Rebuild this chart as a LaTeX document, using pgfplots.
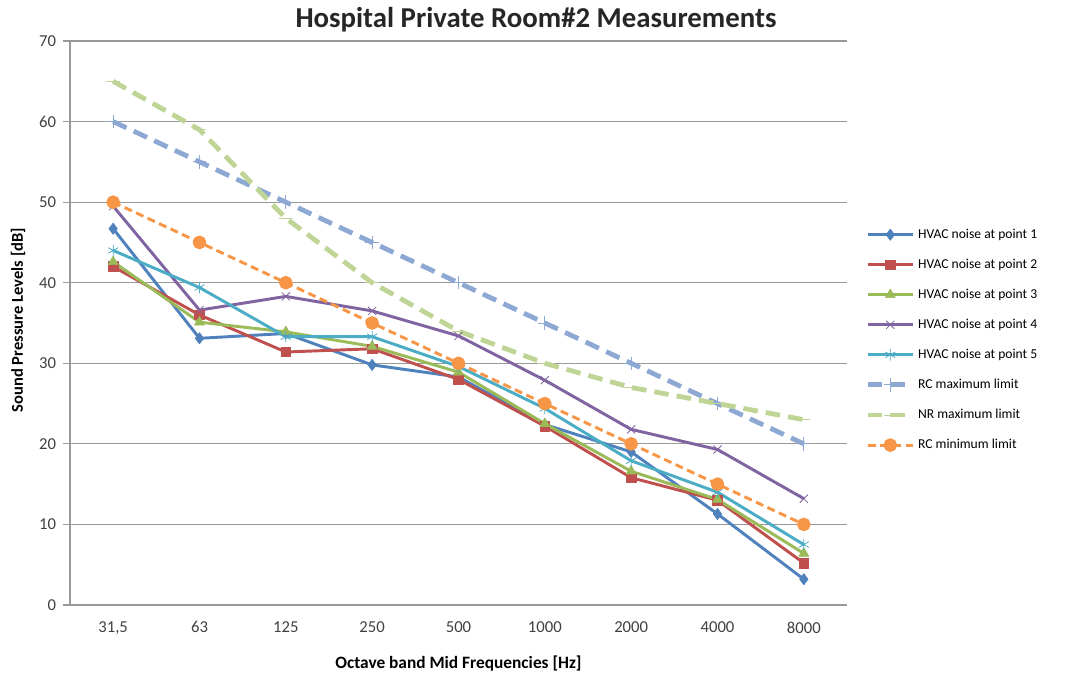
\documentclass[border=0pt]{standalone}
\usepackage{pgfplots}
\usepackage{pgfplotstable}
\usepackage{fontspec}
\setmainfont{Carlito}
\pgfplotsset{compat=1.18}

\definecolor{xblue}{HTML}{4F81BD}
\definecolor{xred}{HTML}{C0504D}
\definecolor{xgreen}{HTML}{9BBB59}
\definecolor{xpurple}{HTML}{8064A2}
\definecolor{xteal}{HTML}{4BACC6}
\definecolor{xorange}{HTML}{F79646}
\definecolor{rcmax}{HTML}{8EA8D4}
\definecolor{nrmax}{HTML}{BFD595}
\definecolor{tickgray}{HTML}{404040}

% octave band index, five measured points, three limit curves
\pgfplotstableread{
x  p1   p2   p3   p4   p5   rcmax nr rcmin
0  46.7 42.0 42.6 49.5 44.0 60    65 50
1  33.1 36.0 35.1 36.6 39.4 55    59 45
2  33.7 31.4 33.9 38.3 33.3 50    48 40
3  29.8 31.8 32.1 36.5 33.3 45    40 35
4  28.3 28.0 28.9 33.4 29.6 40    34 30
5  22.4 22.2 22.5 27.9 24.4 35    30 25
6  19.0 15.8 16.6 21.8 17.9 30    27 20
7  11.3 13.0 13.1 19.3 14.0 25    25 15
8   3.2  5.2  6.4 13.2  7.5 20    23 10
}\spl

\begin{document}
\begin{tikzpicture}
\path[use as bounding box] (-52.5pt,-52.5pt) rectangle (746.25pt,453.75pt);
\begin{axis}[
  scale only axis,
  width=582.75pt, height=423pt,
  xmin=-0.5, xmax=8.5, ymin=0, ymax=70,
  axis x line=bottom, axis y line=left,
  axis line style={-, gray!80, line width=0.8pt},
  xtick={0,...,8},
  xticklabels={31{,}5,63,125,250,500,1000,2000,4000,8000},
  major x tick style={draw=none},
  extra x ticks={-0.5,0.5,...,8.5},
  extra x tick labels={},
  extra x tick style={major tick length=6pt, tick align=outside, tick style={gray!80, line width=0.8pt}},
  ytick={0,10,...,70},
  ymajorgrids,
  grid style={gray!80, line width=0.8pt},
  y tick style={gray!80, line width=0.8pt},
  tick align=outside, major tick length=5pt,
  /pgf/number format/assume math mode=true,
  tick label style={font=\fontsize{12.5}{14}\selectfont, text=tickgray},
  xticklabel style={yshift=-4pt},
  yticklabel style={xshift=-2pt},
  xlabel={\textbf{Octave band Mid Frequencies [Hz]}},
  ylabel={\textbf{Sound Pressure Levels [dB]}},
  xlabel style={font=\fontsize{13}{15}\selectfont, at={(axis description cs:0.5,-0.103)}, anchor=center},
  ylabel style={font=\fontsize{12.4}{15}\selectfont, at={(axis description cs:-0.067,0.505)}, anchor=center},
  legend style={draw=none, at={(rel axis cs:1.018,0.47)}, anchor=west,
    font=\fontsize{10.2}{12}\selectfont, row sep=10pt, fill=none},
  legend cell align=left,
  legend image code/.code={\draw[mark repeat=2,mark phase=2] plot coordinates {(0pt,0pt) (17pt,0pt) (34pt,0pt)};},
  every axis plot/.append style={line join=round},
]
\addplot[xblue, line width=2.2pt, mark=diamond*, mark size=4.2pt, mark options={solid, line width=0.5pt}] table[x=x,y=p1]{\spl};
\addlegendentry{HVAC noise at point 1}
\addplot[xred, line width=2.2pt, mark=square*, mark size=3.6pt, mark options={solid, line width=0.5pt}] table[x=x,y=p2]{\spl};
\addlegendentry{HVAC noise at point 2}
\addplot[xgreen, line width=2.2pt, mark=triangle*, mark size=4.3pt, mark options={solid, line width=0.5pt}] table[x=x,y=p3]{\spl};
\addlegendentry{HVAC noise at point 3}
\addplot[xpurple, line width=2.2pt, mark=x, mark size=4.3pt, mark options={solid, line width=0.6pt}] table[x=x,y=p4]{\spl};
\addlegendentry{HVAC noise at point 4}
\addplot[xteal, line width=2.2pt, mark=asterisk, mark size=4.3pt, mark options={solid, line width=0.6pt}] table[x=x,y=p5]{\spl};
\addlegendentry{HVAC noise at point 5}
\addplot[rcmax, line width=3.6pt, dash pattern=on 11pt off 6pt, mark=+, mark size=5pt, mark options={solid, line width=0.6pt}] table[x=x,y=rcmax]{\spl};
\addlegendentry{RC maximum limit}
\addplot[nrmax, line width=3.6pt, dash pattern=on 11pt off 6pt, mark=-, mark size=5pt, mark options={solid, line width=0.6pt}] table[x=x,y=nr]{\spl};
\addlegendentry{NR maximum limit}
\addplot[xorange, line width=2.2pt, dash pattern=on 6pt off 3.5pt, mark=*, mark size=4pt, mark options={solid}] table[x=x,y=rcmin]{\spl};
\addlegendentry{RC minimum limit}
\end{axis}
\node[font=\fontsize{21.6}{25}\selectfont\bfseries, text=black!85] at (349.5pt,438.75pt) {Hospital Private Room\#2 Measurements};
\end{tikzpicture}
\end{document}
